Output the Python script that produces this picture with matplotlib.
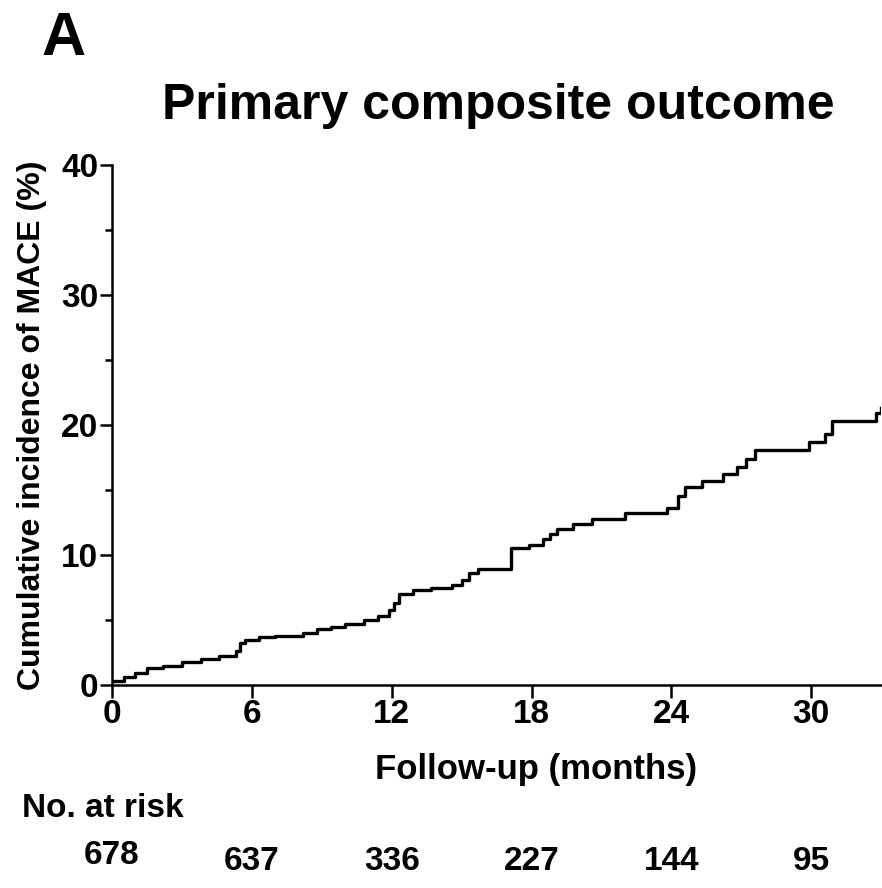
import matplotlib
matplotlib.use('Agg')
import matplotlib.pyplot as plt
from matplotlib.ticker import MultipleLocator

# step curve: event times (months) and cumulative %
event_months = [0, 0.5, 1.0, 1.5, 2.2, 3.0, 3.8, 4.6, 5.3, 5.5, 5.7, 6.3, 7.0,
                8.2, 8.8, 9.4, 10.0, 10.8, 11.4, 11.9, 12.1, 12.3, 12.9, 13.7,
                14.6, 15.0, 15.3, 15.7, 17.1, 17.9, 18.5, 18.8, 19.1, 19.8,
                20.6, 22.0, 23.8, 24.3, 24.6, 25.3, 26.2, 26.8, 27.2, 27.6,
                29.9, 30.6, 30.9, 32.8, 33.0]
cum_incidence = [0.3, 0.6, 0.9, 1.3, 1.5, 1.8, 2.0, 2.2, 2.6, 3.2, 3.5, 3.7, 3.8,
                 4.0, 4.3, 4.5, 4.7, 5.0, 5.3, 5.8, 6.3, 7.0, 7.3, 7.5,
                 7.7, 8.1, 8.6, 8.9, 10.5, 10.8, 11.2, 11.6, 12.0, 12.4,
                 12.8, 13.2, 13.6, 14.5, 15.2, 15.7, 16.2, 16.8, 17.4, 18.1,
                 18.7, 19.3, 20.3, 20.9, 21.3]

risk_months = [0, 6, 12, 18, 24, 30]
at_risk = [678, 637, 336, 227, 144, 95]

plt.rcParams['font.family'] = ['Liberation Sans', 'DejaVu Sans']
plt.rcParams['font.weight'] = 'bold'

fig = plt.figure(figsize=(8.82, 8.88), dpi=100)
ax = fig.add_axes([0.127, 0.2286, 0.872, 0.5856])

ax.step(event_months, cum_incidence, where='post', color='black', lw=2.4)

ax.set_xlim(0, 33)
ax.set_ylim(0, 40)
ax.set_xticks(risk_months)
ax.set_yticks([0, 10, 20, 30, 40])
ax.yaxis.set_minor_locator(MultipleLocator(5))
ax.tick_params(axis='both', which='major', labelsize=24, width=1.8, length=9,
               direction='out', pad=1)
ax.tick_params(axis='y', which='minor', width=1.8, length=5)
for lab in ax.get_xticklabels() + ax.get_yticklabels():
    lab.set_fontweight('bold')

for side in ['top', 'right']:
    ax.spines[side].set_visible(False)
for side in ['left', 'bottom']:
    ax.spines[side].set_linewidth(1.8)

ax.set_ylabel("Cumulative incidence of MACE (%)", fontsize=23, fontweight='bold')
ax.yaxis.set_label_coords(-0.104, 0.5)
ax.set_xlabel("Follow-up (months)", fontsize=25, fontweight='bold')
ax.xaxis.set_label_coords(0.551, -0.163)
ax.xaxis.label.set_va('center')
ax.yaxis.label.set_va('center')

fig.text(0.5646, 0.881, "Primary composite outcome", fontsize=36, fontweight='bold',
         ha='center', va='center')
fig.text(0.0726, 0.955, "A", fontsize=44, fontweight='bold', ha='center', va='center')

fig.text(0.025, 0.089, "No. at risk", fontsize=24, fontweight='bold', ha='left', va='center')
trans = ax.get_xaxis_transform()
for i, (m, n) in enumerate(zip(risk_months, at_risk)):
    yoff = -0.327 if i == 0 else -0.340
    ax.text(m, yoff, str(n), transform=trans, fontsize=24, fontweight='bold',
            ha='center', va='center', clip_on=False)

fig.savefig("out.png", dpi=100)
